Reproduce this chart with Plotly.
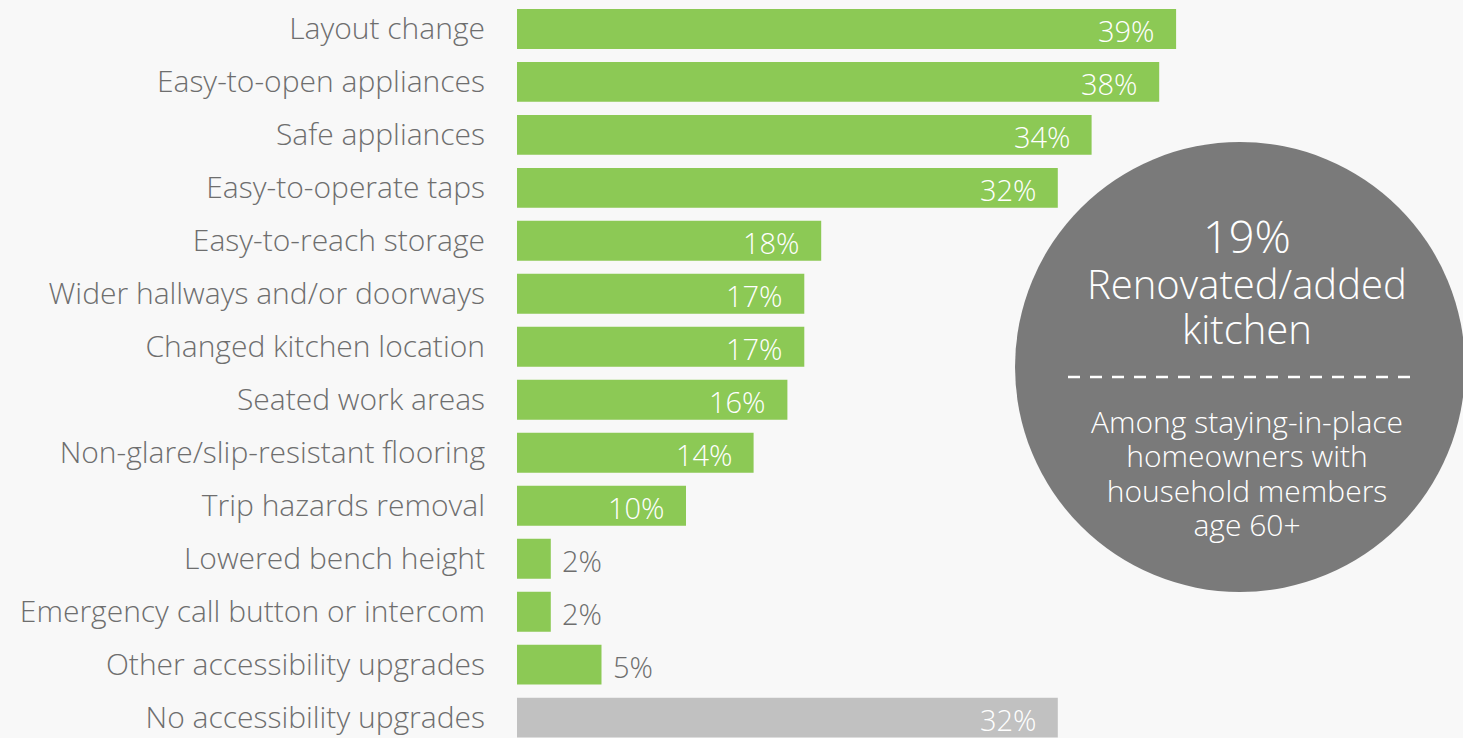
import plotly.graph_objects as go

# Kitchen accessibility upgrades (share of renovations)
categories = [
    "Layout change",
    "Easy-to-open appliances",
    "Safe appliances",
    "Easy-to-operate taps",
    "Easy-to-reach storage",
    "Wider hallways and/or doorways",
    "Changed kitchen location",
    "Seated work areas",
    "Non-glare/slip-resistant flooring",
    "Trip hazards removal",
    "Lowered bench height",
    "Emergency call button or intercom",
    "Other accessibility upgrades",
    "No accessibility upgrades",
]
values = [39, 38, 34, 32, 18, 17, 17, 16, 14, 10, 2, 2, 5, 32]
is_none_row = [False] * 13 + [True]

headline_value = "19%"
headline_lines = ["Renovated/added", "kitchen"]
note_lines = ["Among staying-in-place", "homeowners with", "household members", "age 60+"]

W, H = 1463, 738
LEFT = 517
BG = "#f8f8f8"
GREEN = "#8cc955"
GREY_BAR = "#c1c1c1"
TEXT = "#6e6e6e"
CIRCLE = "#7a7a7a"
FONT = "Open Sans"

colors = [GREY_BAR if n else GREEN for n in is_none_row]

fig = go.Figure(
    go.Bar(
        x=values,
        y=categories,
        orientation="h",
        marker=dict(color=colors, line=dict(width=0)),
        hoverinfo="skip",
    )
)

# value labels: inside the bar end for long bars, just outside for short ones
annotations = []
for cat, v in zip(categories, values):
    inside = v >= 10
    annotations.append(
        dict(
            x=v, y=cat, xref="x", yref="y",
            text=f"{v}%",
            showarrow=False,
            xanchor="right" if inside else "left",
            xshift=-19 if inside else 9,
            yshift=-2,
            font=dict(family=FONT, size=29, color="white" if inside else TEXT, weight=300),
        )
    )

plot_w = W - LEFT


def px_x(px):
    return (px - LEFT) / plot_w


def px_y(py):
    return 1 - py / H


def sized(text, size):
    return f"<span style='font-size:{size}px'>{text}</span>"


cx, cy, r = 1240, 367, 225
tx = 1247

shapes = [
    dict(
        type="circle", xref="paper", yref="paper",
        xsizemode="pixel", ysizemode="pixel",
        xanchor=px_x(cx), yanchor=px_y(cy),
        x0=-r, x1=r, y0=-r, y1=r,
        fillcolor=CIRCLE, line=dict(width=0), layer="above",
    ),
    dict(
        type="line", xref="paper", yref="paper",
        x0=px_x(1068), x1=px_x(1418), y0=px_y(377), y1=px_y(377),
        line=dict(color="white", width=2.5, dash="12px,10px"), layer="above",
    ),
]

# headline block: base size sets the line pitch, spans set the glyph size
headline_text = "<br>".join([sized(headline_value, 45)] + [sized(t, 40) for t in headline_lines])
note_text = "<br>".join(sized(t, 30) for t in note_lines)

annotations.append(
    dict(
        x=px_x(tx), y=px_y(280), xref="paper", yref="paper",
        text=headline_text, showarrow=False, xanchor="center", yanchor="middle",
        font=dict(family=FONT, size=35, color="white", weight=300),
    )
)
annotations.append(
    dict(
        x=px_x(tx), y=px_y(473), xref="paper", yref="paper",
        text=note_text, showarrow=False, xanchor="center", yanchor="middle",
        font=dict(family=FONT, size=26.4, color="white", weight=300),
    )
)

fig.update_layout(
    width=W, height=H,
    paper_bgcolor=BG, plot_bgcolor=BG,
    margin=dict(l=LEFT, r=0, t=0, b=0),
    bargap=0.246,
    showlegend=False,
    shapes=shapes,
    annotations=annotations,
    xaxis=dict(range=[0, plot_w / 16.9], visible=False, fixedrange=True),
    yaxis=dict(
        categoryorder="array", categoryarray=categories,
        range=[13.385, -0.546],
        showgrid=False, zeroline=False, showline=False, ticks="",
        ticklabelstandoff=31,
        tickfont=dict(family=FONT, size=30, color=TEXT, weight=300),
        fixedrange=True,
    ),
)

fig.write_html("out.html", config={"displayModeBar": False})
